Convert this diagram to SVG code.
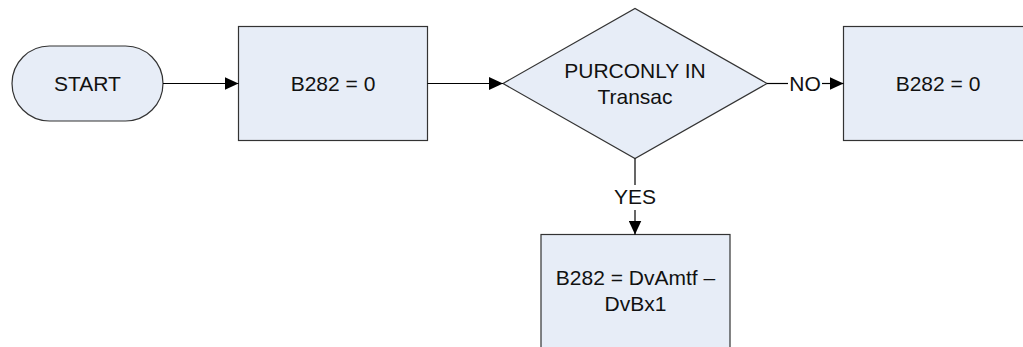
<svg xmlns="http://www.w3.org/2000/svg" width="1023" height="347" viewBox="0 0 1023 347">
<style>
.shape{fill:#e7edf7;stroke:#333;stroke-width:1.2}
.lbl{font-family:"Liberation Sans",Arial,sans-serif;font-size:21px;fill:#111;text-anchor:middle}
.conn{stroke:#000;stroke-width:1.2;fill:none}
</style>
<defs>
<marker id="arr" viewBox="0 0 14 13" refX="14" refY="6.5" markerWidth="14" markerHeight="13" markerUnits="userSpaceOnUse" orient="auto">
<path d="M0,0 L14,6.5 L0,13 z" fill="#000"/>
</marker>
</defs>
<rect width="1023" height="347" fill="#fff"/>
<g id="start">
<rect class="shape" x="12" y="46" width="151" height="75" rx="37.5" ry="37.5"/>
<text class="lbl" x="87.5" y="90.5">START</text>
</g>
<g id="b282a">
<rect class="shape" x="238.5" y="26.5" width="189" height="114"/>
<text class="lbl" x="333" y="90.5">B282 = 0</text>
</g>
<g id="decision">
<polygon class="shape" points="503,83.5 635,8.5 767,83.5 635,158.5"/>
<text class="lbl" x="635" y="77.5">PURCONLY IN</text>
<text class="lbl" x="635" y="103.5">Transac</text>
</g>
<g id="b282b">
<rect class="shape" x="843.5" y="26.5" width="189" height="114"/>
<text class="lbl" x="938" y="90.5">B282 = 0</text>
</g>
<g id="b282c">
<rect class="shape" x="541" y="234.5" width="189" height="114"/>
<text class="lbl" x="635.5" y="285">B282 = DvAmtf –</text>
<text class="lbl" x="635.5" y="311">DvBx1</text>
</g>
<g id="connectors">
<line class="conn" x1="163" y1="83.5" x2="238.5" y2="83.5" marker-end="url(#arr)"/>
<line class="conn" x1="427.5" y1="83.5" x2="503" y2="83.5" marker-end="url(#arr)"/>
<line class="conn" x1="767" y1="83.5" x2="788" y2="83.5"/>
<line class="conn" x1="822" y1="83.5" x2="843.5" y2="83.5" marker-end="url(#arr)"/>
<text class="lbl" x="805" y="90.5">NO</text>
<line class="conn" x1="635" y1="158.5" x2="635" y2="185"/>
<line class="conn" x1="635" y1="210" x2="635" y2="234.5" marker-end="url(#arr)"/>
<text class="lbl" x="635" y="203.5">YES</text>
</g>
</svg>
